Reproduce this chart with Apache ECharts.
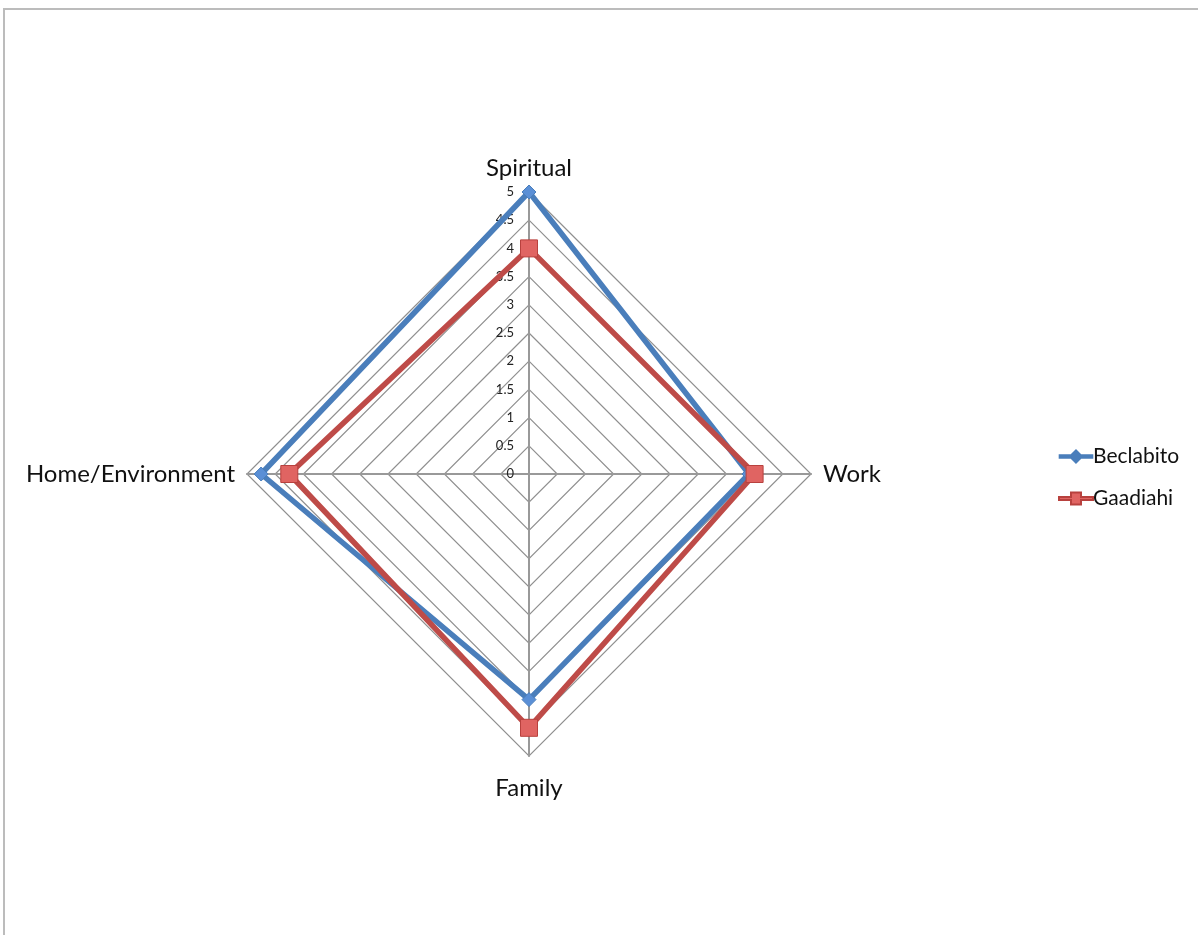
<!DOCTYPE html>
<html>
<head>
<meta charset="utf-8">
<title>Radar</title>
<script src="https://cdn.jsdelivr.net/npm/echarts@6/dist/echarts.min.js"></script>
<style>
  html, body { margin: 0; padding: 0; background: #ffffff; }
  #frame { position: absolute; left: 3px; top: 8px; width: 1300px; height: 1000px;
           border-top: 2px solid #bcbcbc; border-left: 2px solid #bcbcbc; }
  #chart { position: absolute; left: 0; top: 0; width: 1198px; height: 935px; }
</style>
</head>
<body>
<div id="frame"></div>
<div id="chart"></div>
<script>
// Axes, listed counterclockwise from the top
const categories = ['Spiritual', 'Home/Environment', 'Family', 'Work'];
const axisMax = 5;
const tickStep = 0.5;

const seriesNames = ['Beclabito', 'Gaadiahi'];
const beclabito = [5, 4.75, 4, 3.9];
const gaadiahi = [4, 4.25, 4.5, 4];

const FONT = 'Lato, "Open Sans", sans-serif';
const BLUE = '#4a7ebb';
const RED = '#be4b48';

const chart = echarts.init(document.getElementById('chart'));

const indicator = categories.map((name, i) => {
  const ind = { name: name, min: 0, max: axisMax };
  if (i === 0) {
    ind.axisLabel = {
      show: true, color: '#222', fontSize: 13, fontFamily: FONT, margin: 15,
      formatter: v => String(v)
    };
  }
  return ind;
});

chart.setOption({
  animation: false,
  backgroundColor: 'transparent',
  legend: {
    orient: 'vertical',
    left: 1053,
    top: 441,
    itemWidth: 34,
    itemHeight: 12,
    itemGap: 21,
    textStyle: { fontFamily: FONT, fontSize: 21, lineHeight: 20, color: '#111', padding: [0, 0, 0, -5] },
    data: [
      { name: seriesNames[0], icon: 'path://M0,5h12l5,-5l5,5h12v2.5h-12l-5,5l-5,-5h-12z', itemStyle: { color: BLUE } },
      { name: seriesNames[1], icon: 'path://M0,4.5h12v-4.5h10v4.5h12v3h-12v4.5h-10v-4.5h-12z', itemStyle: { color: '#e06462' } }
    ]
  },
  radar: {
    center: [529, 474],
    radius: 282,
    startAngle: 90,
    shape: 'polygon',
    splitNumber: Math.round(axisMax / tickStep),
    indicator: indicator,
    axisName: {
      color: '#111', fontSize: 24, fontFamily: FONT,
      formatter: name => name === 'Family' ? '{low|' + name + '}' : name,
      rich: { low: { fontSize: 24, fontFamily: FONT, color: '#111', padding: [8, 0, 0, 0] } }
    },
    nameGap: 12,
    axisLabel: { show: false },
    axisLine: { lineStyle: { color: '#999999', width: 2 } },
    splitLine: { lineStyle: { color: '#8f8f8f', width: 1.2 } },
    splitArea: { show: false },
    axisTick: { show: false }
  },
  series: [{
    type: 'radar',
    data: [
      {
        name: seriesNames[0], value: beclabito,
        symbol: 'diamond', symbolSize: 14,
        lineStyle: { color: BLUE, width: 5.5 },
        itemStyle: { color: '#5a8fd6', borderColor: BLUE, borderWidth: 1 },
        z: 2
      },
      {
        name: seriesNames[1], value: gaadiahi,
        symbol: 'rect', symbolSize: 17,
        lineStyle: { color: RED, width: 5.5 },
        itemStyle: { color: '#e06462', borderColor: '#b8413e', borderWidth: 1 },
        z: 3
      }
    ]
  }]
});
</script>
</body>
</html>
